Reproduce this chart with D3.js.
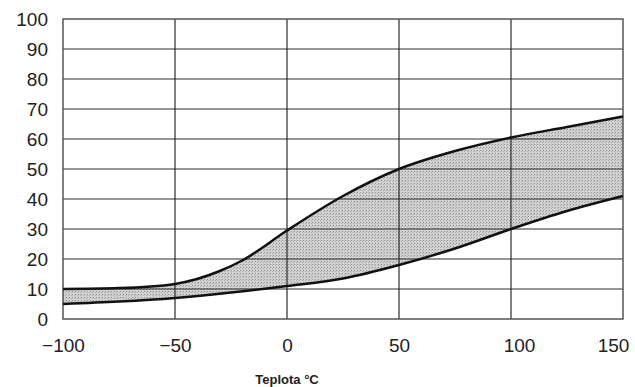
<!DOCTYPE html>
<html><head><meta charset="utf-8">
<script src="https://cdn.jsdelivr.net/npm/d3@7"></script>
<style>body{margin:0;background:#fff}svg{display:block}</style>
</head><body>
<svg id="c" width="635" height="387"></svg>
<script>
const temps = [-100, -75, -50, -30, -20, 0, 25, 50, 75, 100, 125, 150];
const upper = [10, 10.3, 11.7, 16, 19.5, 29.5, 41, 50, 56, 60.5, 64, 67.5];
const lowerTemps = [-100, -75, -50, -25, 0, 25, 50, 75, 100, 125, 150];
const lower = [5, 5.8, 7, 8.8, 11, 13.5, 18, 23.5, 30, 36, 41];
const xTicks = [-100, -50, 0, 50, 100, 150];
const yTicks = [0, 10, 20, 30, 40, 50, 60, 70, 80, 90, 100];
const xTitle = "Teplota °C";

const svg = d3.select("#c");
const L = 63, R = 623, T = 19, B = 319;
const x = d3.scaleLinear().domain([-100, 150]).range([L, R]);
const y = d3.scaleLinear().domain([0, 100]).range([B, T]);

const upPts = temps.map((t, i) => [t, upper[i]]);
const loPts = lowerTemps.map((t, i) => [t, lower[i]]);
const curve = d3.curveMonotoneX;

const lineU = d3.line().x(d => x(d[0])).y(d => y(d[1])).curve(curve);
const lineL = d3.line().x(d => x(d[0])).y(d => y(d[1])).curve(curve);
const defs = svg.append("defs");
const pat = defs.append("pattern").attr("id", "dots").attr("width", 3).attr("height", 3)
  .attr("patternUnits", "userSpaceOnUse");
pat.append("rect").attr("width", 3).attr("height", 3).attr("fill", "#d2d2d2");
pat.append("rect").attr("x", 0).attr("y", 0).attr("width", 1).attr("height", 1).attr("fill", "#8f8f8f");
pat.append("rect").attr("x", 2).attr("y", 1).attr("width", 1).attr("height", 1).attr("fill", "#aaaaaa");

const dU = lineU(upPts);
const dL = lineL(loPts.slice().reverse());
svg.append("path")
  .attr("d", dU + "L" + dL.slice(1) + "Z")
  .attr("fill", "url(#dots)").attr("stroke", "none");

// grid
const g = svg.append("g");
g.selectAll("line.h").data(yTicks.filter(v => v > 0 && v < 100)).join("line")
  .attr("x1", L).attr("x2", R).attr("y1", d => y(d)).attr("y2", d => y(d))
  .attr("stroke", "#2a2a2a").attr("stroke-width", 1.2);
g.selectAll("line.v").data(xTicks.filter(v => v > -100 && v < 150)).join("line")
  .attr("x1", d => x(d)).attr("x2", d => x(d)).attr("y1", T).attr("y2", B)
  .attr("stroke", "#2a2a2a").attr("stroke-width", 1.2);

// frame
svg.append("rect").attr("x", L).attr("y", T).attr("width", R - L).attr("height", B - T)
  .attr("fill", "none").attr("stroke", "#555").attr("stroke-width", 1.5);

// curves
svg.append("path").attr("d", lineU(upPts)).attr("fill", "none").attr("stroke", "#111").attr("stroke-width", 2.5);
svg.append("path").attr("d", lineL(loPts)).attr("fill", "none").attr("stroke", "#111").attr("stroke-width", 2.5);

// axes labels
const yAxis = d3.axisLeft(y).tickValues(yTicks).tickSize(0).tickPadding(15);
const ya = svg.append("g").attr("transform", `translate(${L},0)`).call(yAxis);
ya.select(".domain").remove();
ya.selectAll("text").attr("font-family", "Liberation Sans, Arial, sans-serif").attr("font-size", 19).attr("fill", "#222");

const xAxis = d3.axisBottom(x).tickValues(xTicks).tickSize(0).tickPadding(20)
  .tickFormat(d => d < 0 ? "\u2212" + Math.abs(d) : d);
const xa = svg.append("g").attr("transform", `translate(0,${B})`).call(xAxis);
xa.select(".domain").remove();
xa.selectAll("text").attr("font-family", "Liberation Sans, Arial, sans-serif").attr("font-size", 19).attr("fill", "#222")
  .attr("dx", d => d === 100 ? 8 : (d === 150 ? -10 : 0));

svg.append("text").attr("x", x(0)).attr("y", 384).attr("text-anchor", "middle")
  .attr("font-family", "Liberation Sans, Arial, sans-serif").attr("font-size", 13)
  .attr("font-weight", "bold").attr("fill", "#222").text(xTitle);
</script>
</body></html>
